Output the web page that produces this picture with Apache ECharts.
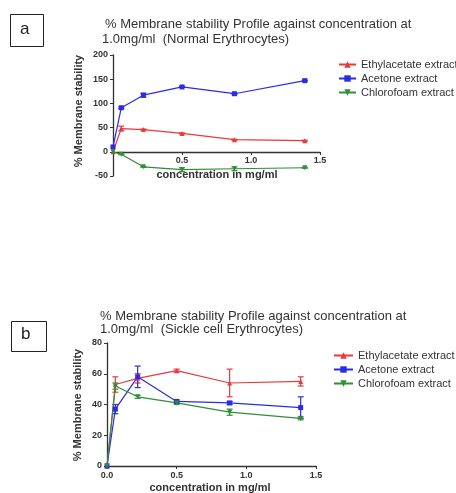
<!DOCTYPE html>
<html><head><meta charset="utf-8">
<script src="https://cdn.jsdelivr.net/npm/echarts@6/dist/echarts.min.js"></script>
<style>html,body{margin:0;padding:0;background:#fff}#c{width:456px;height:493px}</style>
</head><body><div id="c"></div>
<script>
// ---- data ----
const conc = [0, 0.06, 0.22, 0.5, 0.88, 1.39];
const seriesNames = ['Ethylacetate extract', 'Acetone extract', 'Chlorofoam extract'];
// Panel a: Normal erythrocytes
const ethylA = [0, 48, 46, 38, 25, 23];
const acetoneA = [10, 91, 117, 134, 120, 147];
const chloroA = [0, -5, -31, -37, -35, -33];
const ethylAErr = [0, 5, 1, 1, 1, 1];
const acetoneAErr = [0, 2, 4, 1, 1, 1];
const chloroAErr = [0, 1, 1, 4, 4, 1];
// Panel b: Sickle cell erythrocytes
const ethylB = [0, 53, 57, 62, 54, 55];
const acetoneB = [0, 37, 58, 42, 41, 38];
const chloroB = [0, 52, 45, 41, 35, 31];
const ethylBErr = [0, 5, 3, 1, 9, 3];
const acetoneBErr = [0, 3, 7, 1, 1, 7];
const chloroBErr = [0, 2, 1, 1, 2, 1];
const yTicksA = [-50, 200, 50];
const yTicksB = [0, 80, 20];
const xTicks = [0, 1.5, 0.5];

const colors = ['#e8393c', '#2b2be6', '#2f8f34'];
const symbols = ['triangle', 'rect', 'triangle'];
const rot = [0, 0, 180];

function pts(vals){ return conc.map((c,i)=>[c, vals[i]]); }
function errPts(vals, errs){ return conc.map((c,i)=>[c, vals[i], errs[i]]); }

function errSeries(idx, vals, errs, color){
  return {
    type: 'custom', xAxisIndex: idx, yAxisIndex: idx, silent: true, z: 3,
    data: errPts(vals, errs),
    renderItem: function(params, api){
      const e = api.value(2);
      if (!e) return null;
      const x = api.value(0), y = api.value(1);
      const top = api.coord([x, y + e]);
      const bot = api.coord([x, y - e]);
      const w = 3;
      return { type: 'group', children: [
        {type:'line', shape:{x1:top[0],y1:top[1],x2:bot[0],y2:bot[1]}, style:{stroke:color,lineWidth:1.2}},
        {type:'line', shape:{x1:top[0]-w,y1:top[1],x2:top[0]+w,y2:top[1]}, style:{stroke:color,lineWidth:1.2}},
        {type:'line', shape:{x1:bot[0]-w,y1:bot[1],x2:bot[0]+w,y2:bot[1]}, style:{stroke:color,lineWidth:1.2}}
      ]};
    }
  };
}

function lineSeries(idx, k, vals){
  return {
    name: seriesNames[k], type: 'line', xAxisIndex: idx, yAxisIndex: idx,
    data: pts(vals), symbol: symbols[k], symbolRotate: rot[k], symbolSize: 5,
    lineStyle: {color: colors[k], width: 1.2}, itemStyle: {color: colors[k]},
    z: 4
  };
}

const axisFont = {fontFamily: 'Liberation Sans', fontWeight: 'bold', fontSize: 9, color: '#333'};
const axisLine = {lineStyle: {color: '#333', width: 1.3}};
const tick = {show: true, length: 3, lineStyle:{color:'#333'}};

const chart = echarts.init(document.getElementById('c'), null, {renderer: 'canvas'});
const txt = (x, y, text, extra) => Object.assign({type:'text', left:x, top:y,
  style: Object.assign({text: text, fill:'#333', font:'13px "Liberation Sans"'}, extra||{})});
const legendText = {fontFamily: 'Liberation Sans', fontSize: 11, color: '#333'};

chart.setOption({
  animation: false,
  backgroundColor: '#fff',
  grid: [
    {left: 113, top: 55, width: 207, height: 121},
    {left: 107, top: 343, width: 209, height: 123},
    {left: 113, top: 55, width: 207, height: 97}
  ],
  xAxis: [
    {gridIndex: 0, type: 'value', min: xTicks[0], max: xTicks[1], interval: xTicks[2], show: false},
    {gridIndex: 1, type: 'value', min: xTicks[0], max: xTicks[1], interval: xTicks[2],
     axisLine: axisLine, axisTick: tick, splitLine: {show: false},
     axisLabel: Object.assign({margin: 5, formatter: v => v.toFixed(1)}, axisFont)},
    {gridIndex: 2, type: 'value', min: xTicks[0], max: xTicks[1], interval: xTicks[2],
     axisLine: axisLine, axisTick: tick, splitLine: {show: false},
     axisLabel: Object.assign({margin: 4, formatter: v => v === 0 ? '' : v.toFixed(1)}, axisFont)}
  ],
  yAxis: [
    {gridIndex: 0, type: 'value', min: yTicksA[0], max: yTicksA[1], interval: yTicksA[2],
     axisLine: Object.assign({show: true, onZero: false}, axisLine),
     axisTick: tick, splitLine: {show: false},
     axisLabel: Object.assign({margin: 5}, axisFont)},
    {gridIndex: 1, type: 'value', min: yTicksB[0], max: yTicksB[1], interval: yTicksB[2],
     axisLine: Object.assign({show: true, onZero: false}, axisLine),
     axisTick: tick, splitLine: {show: false},
     axisLabel: Object.assign({margin: 5}, axisFont)},
    {gridIndex: 2, type: 'value', min: 0, max: yTicksA[1], show: false}
  ],
  legend: [
    {data: seriesNames, orient: 'vertical', left: 333, top: 54, itemGap: 3, itemWidth: 17, itemHeight: 8,
     textStyle: legendText, selectedMode: false},
    {data: seriesNames, orient: 'vertical', left: 328, top: 345, itemGap: 3, itemWidth: 19, itemHeight: 8,
     textStyle: legendText, selectedMode: false}
  ],
  series: [
    lineSeries(0, 0, ethylA), lineSeries(0, 1, acetoneA), lineSeries(0, 2, chloroA),
    errSeries(0, ethylA, ethylAErr, colors[0]), errSeries(0, acetoneA, acetoneAErr, colors[1]), errSeries(0, chloroA, chloroAErr, colors[2]),
    lineSeries(1, 0, ethylB), lineSeries(1, 1, acetoneB), lineSeries(1, 2, chloroB),
    errSeries(1, ethylB, ethylBErr, colors[0]), errSeries(1, acetoneB, acetoneBErr, colors[1]), errSeries(1, chloroB, chloroBErr, colors[2])
  ],
  graphic: [
    {type:'rect', left: 8, top: 12, shape:{width:33, height:32}, style:{fill:'none', stroke:'#222', lineWidth:1}},
    txt(20, 21, 'a', {font:'17px "Liberation Sans"', fill:'#222'}),
    {type:'rect', left: 9, top: 319, shape:{width:35, height:30}, style:{fill:'none', stroke:'#222', lineWidth:1}},
    txt(21, 326, 'b', {font:'17px "Liberation Sans"', fill:'#222'}),
    txt(105, 18, '% Membrane stability Profile against concentration at'),
    txt(102, 33, '1.0mg/ml  (Normal Erythrocytes)'),
    txt(100, 310, '% Membrane stability Profile against concentration at'),
    txt(100, 323, '1.0mg/ml  (Sickle cell Erythrocytes)'),
    {type:'text', x: 79, y: 111, rotation: Math.PI/2,
     style:{text:'% Membrane stability', fill:'#333', font:'bold 11px "Liberation Sans"', textAlign:'center', textVerticalAlign:'middle'}},
    {type:'text', x: 78, y: 405, rotation: Math.PI/2,
     style:{text:'% Membrane stability', fill:'#333', font:'bold 11px "Liberation Sans"', textAlign:'center', textVerticalAlign:'middle'}},
    {type:'text', x: 217, y: 175,
     style:{text:'concentration in mg/ml', fill:'#333', font:'bold 11px "Liberation Sans"', textAlign:'center', textVerticalAlign:'middle'}},
    {type:'text', x: 210, y: 488,
     style:{text:'concentration in mg/ml', fill:'#333', font:'bold 11px "Liberation Sans"', textAlign:'center', textVerticalAlign:'middle'}}
  ]
});
</script></body></html>
